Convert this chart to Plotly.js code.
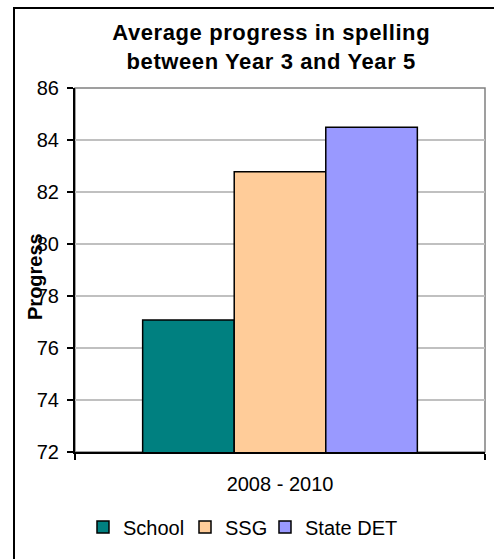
<!DOCTYPE html>
<html>
<head>
<meta charset="utf-8">
<script src="https://cdn.plot.ly/plotly-3.0.1.min.js"></script>
<style>
  html, body { margin: 0; padding: 0; background: #fff; }
  #chart { width: 494px; height: 559px; }
  .gtitle { letter-spacing: 0.6px; }
</style>
</head>
<body>
<div id="chart"></div>
<script>
// Average progress in spelling, Year 3 to Year 5
const period = ["2008 - 2010"];
const seriesNames = ["School", "SSG", "State DET"];
const schoolValues = [77.08];
const ssgValues = [82.78];
const stateValues = [84.49];
const seriesColors = ["#008080", "#FFCC99", "#9999FF"];
const yTicks = [72, 74, 76, 78, 80, 82, 84, 86];

const seriesValues = [schoolValues, ssgValues, stateValues];
const FONT = "Liberation Sans, Arial, sans-serif";

// one legend per series so each key sits where it should along the bottom row
const legendIds = ["legend", "legend2", "legend3"];
const legendX = [0.0195, 0.2683, 0.4634];

const traces = seriesNames.map((name, i) => ({
  type: "bar",
  name: name,
  x: period,
  y: seriesValues[i],
  legend: legendIds[i],
  marker: { color: seriesColors[i], line: { color: "#000", width: 1.5 } },
  hoverinfo: "name+y"
}));

const layout = {
  width: 494,
  height: 559,
  margin: { l: 75, r: 9, t: 88, b: 107 },
  paper_bgcolor: "#fff",
  plot_bgcolor: "#fff",
  font: { family: FONT, size: 20, color: "#000" },
  title: {
    text: "Average progress in spelling<br>between Year 3 and Year 5",
    font: { family: FONT, size: 22, weight: "bold", color: "#000" },
    xref: "container", x: 0.549, xanchor: "center",
    yref: "container", y: 1 - 40 / 559, yanchor: "top"
  },
  barmode: "group",
  bargap: 0.33,
  bargroupgap: 0,
  showlegend: true,
  xaxis: {
    type: "category",
    range: [-0.5, 0.5],
    showline: true, linecolor: "#000", linewidth: 2,
    ticks: "outside", tickson: "boundaries", ticklen: 6, tickcolor: "#000", tickwidth: 1.5,
    ticklabelstandoff: 13,
    showgrid: false,
    tickfont: { family: FONT, size: 20 },
    fixedrange: true
  },
  yaxis: {
    range: [72, 86],
    tickvals: yTicks,
    ticktext: yTicks.map(String),
    showline: true, linecolor: "#000", linewidth: 2,
    ticks: "outside", ticklen: 6, tickcolor: "#000", tickwidth: 1.5,
    ticklabelstandoff: 4,
    showgrid: true, gridcolor: "#c0c0c0", gridwidth: 1.5,
    zeroline: false,
    tickfont: { family: FONT, size: 20 },
    fixedrange: true
  },
  annotations: [{
    text: "Progress",
    textangle: -90,
    font: { family: FONT, size: 20, weight: "bold", color: "#000" },
    xref: "paper", x: -0.0976, xanchor: "center",
    yref: "paper", y: 0.4835, yanchor: "middle",
    showarrow: false
  }],
  shapes: [
    // outer chart frame
    {
      type: "rect", xref: "paper", yref: "paper",
      x0: -61 / 410, x1: 1.05, y0: -0.32, y1: (452 - 8) / 364,
      line: { color: "#000", width: 2 }, layer: "below"
    },
    // plot area border (top and right edges)
    {
      type: "rect", xref: "paper", yref: "paper",
      x0: 0, x1: 1, y0: 0, y1: 1,
      line: { color: "#808080", width: 1.5 }, layer: "below"
    }
  ]
};

legendIds.forEach((id, i) => {
  layout[id] = {
    orientation: "h",
    x: legendX[i], xanchor: "left",
    y: -0.206, yanchor: "middle",
    font: { family: FONT, size: 20 },
    itemwidth: 30,
    bgcolor: "rgba(0,0,0,0)"
  };
});

Plotly.newPlot("chart", traces, layout, { displayModeBar: false, staticPlot: true });
</script>
</body>
</html>
